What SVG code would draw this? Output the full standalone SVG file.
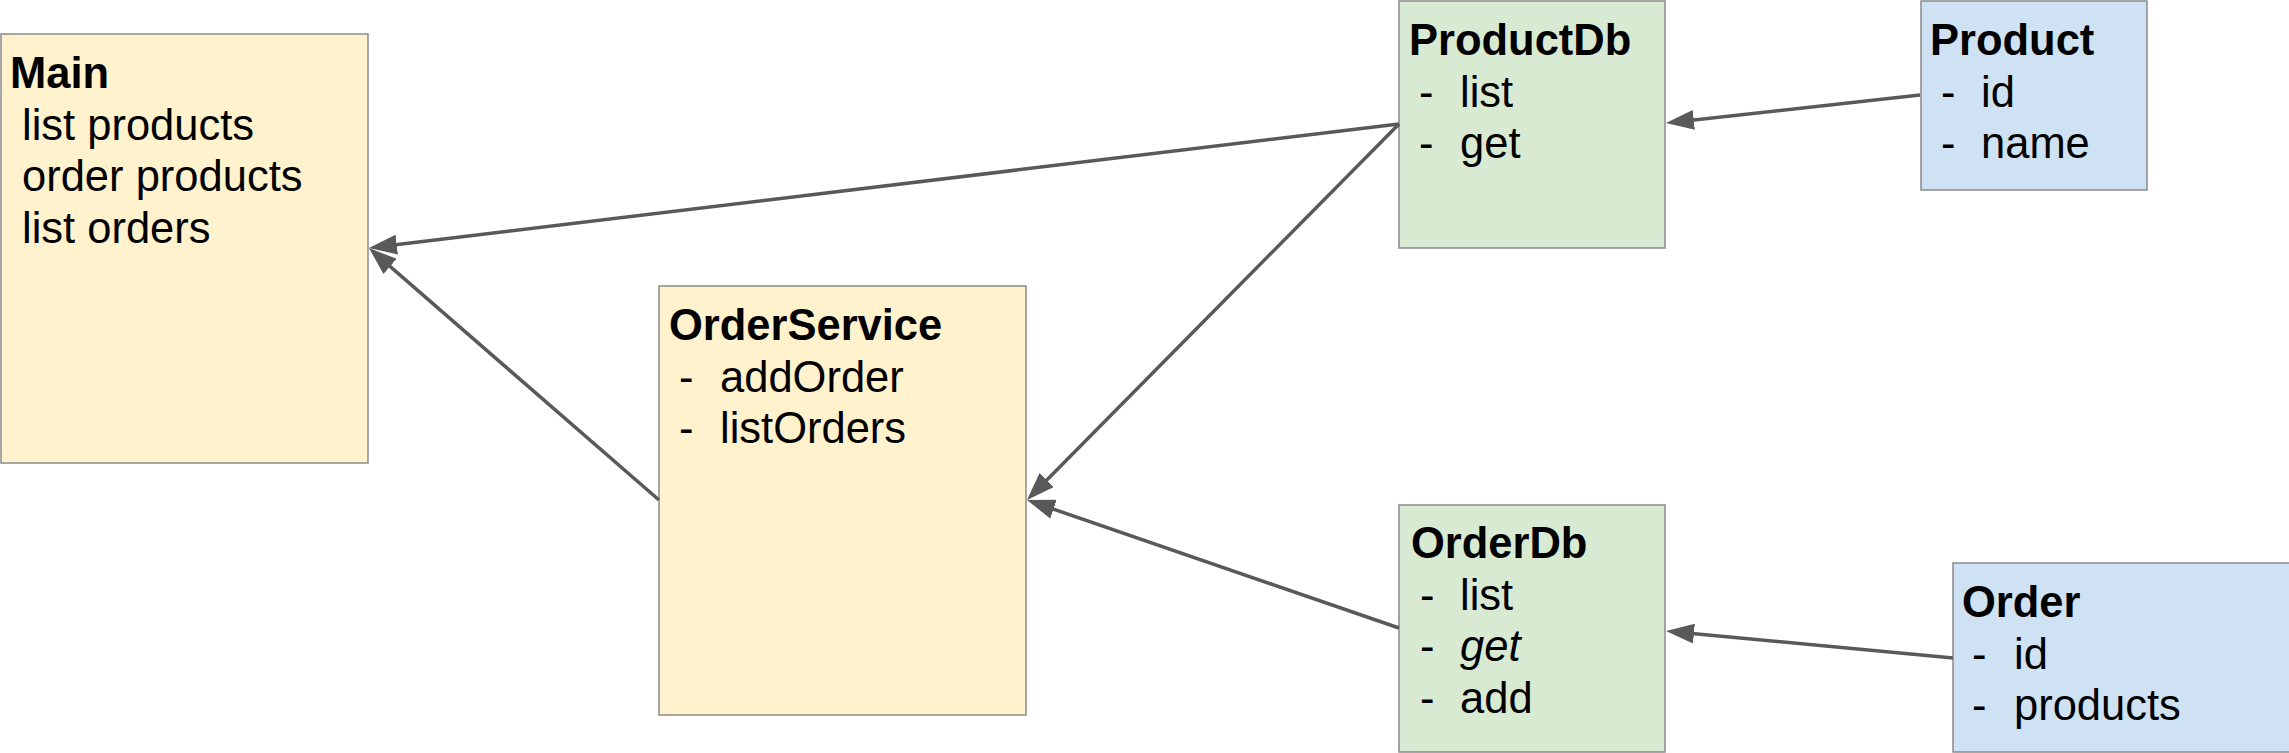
<svg xmlns="http://www.w3.org/2000/svg" width="2289" height="753" viewBox="0 0 2289 753">
<style>
  .box { stroke: #8a8a8a; stroke-width: 1.5; }
  .yellow { fill: #fff2cc; }
  .green { fill: #d9ead3; }
  .blue { fill: #cfe2f3; }
  text { font-family: "Liberation Sans", Arial, sans-serif; font-size: 43.5px; fill: #000000; }
  .title { font-weight: bold; }
  .it { font-style: italic; }
  .conn { stroke: #595959; stroke-width: 3.5; fill: none; marker-end: url(#arrow); }
</style>
<defs>
  <marker id="arrow" viewBox="0 0 28 20" refX="18" refY="10" markerWidth="28" markerHeight="20" markerUnits="userSpaceOnUse" orient="auto">
    <path d="M0,0 L28,10 L0,20 z" fill="#595959"/>
  </marker>
</defs>
<rect width="2289" height="753" fill="#ffffff"/>

<g id="node-main">
  <rect class="box yellow" x="1" y="34" width="367" height="429"/>
  <text class="title" x="10" y="88">Main</text>
  <text x="22" y="139.5">list products</text>
  <text x="22" y="191">order products</text>
  <text x="22" y="242.5">list orders</text>
</g>

<g id="node-orderservice">
  <rect class="box yellow" x="659" y="286" width="367" height="429"/>
  <text class="title" x="669" y="340">OrderService</text>
  <text x="679" y="392">-</text><text x="720" y="392">addOrder</text>
  <text x="679" y="443">-</text><text x="720" y="443">listOrders</text>
</g>

<g id="node-productdb">
  <rect class="box green" x="1399" y="1" width="266" height="247"/>
  <text class="title" x="1409" y="55">ProductDb</text>
  <text x="1419" y="107">-</text><text x="1460" y="107">list</text>
  <text x="1419" y="158">-</text><text x="1460" y="158">get</text>
</g>

<g id="node-product">
  <rect class="box blue" x="1921" y="1" width="226" height="189"/>
  <text class="title" x="1930" y="55">Product</text>
  <text x="1941" y="107">-</text><text x="1981" y="107">id</text>
  <text x="1941" y="158">-</text><text x="1981" y="158">name</text>
</g>

<g id="node-orderdb">
  <rect class="box green" x="1399" y="505" width="266" height="247"/>
  <text class="title" x="1411" y="558">OrderDb</text>
  <text x="1420" y="610">-</text><text x="1460" y="610">list</text>
  <text x="1420" y="661">-</text><text class="it" x="1460" y="661">get</text>
  <text x="1420" y="713">-</text><text x="1460" y="713">add</text>
</g>

<g id="node-order">
  <rect class="box blue" x="1953" y="563" width="340" height="189"/>
  <text class="title" x="1962" y="617">Order</text>
  <text x="1972" y="669">-</text><text x="2014" y="669">id</text>
  <text x="1972" y="720">-</text><text x="2014" y="720">products</text>
</g>

<g id="connectors">
  <line class="conn" x1="1399" y1="124" x2="378.9" y2="246.8"/>
  <line class="conn" x1="1399" y1="124" x2="1034" y2="492.9"/>
  <line class="conn" x1="1399" y1="628" x2="1036.5" y2="503.3"/>
  <line class="conn" x1="659" y1="500" x2="376.5" y2="254.6"/>
  <line class="conn" x1="1920" y1="95" x2="1675.9" y2="121.9"/>
  <line class="conn" x1="1953" y1="658" x2="1676" y2="631.9"/>
</g>
</svg>
